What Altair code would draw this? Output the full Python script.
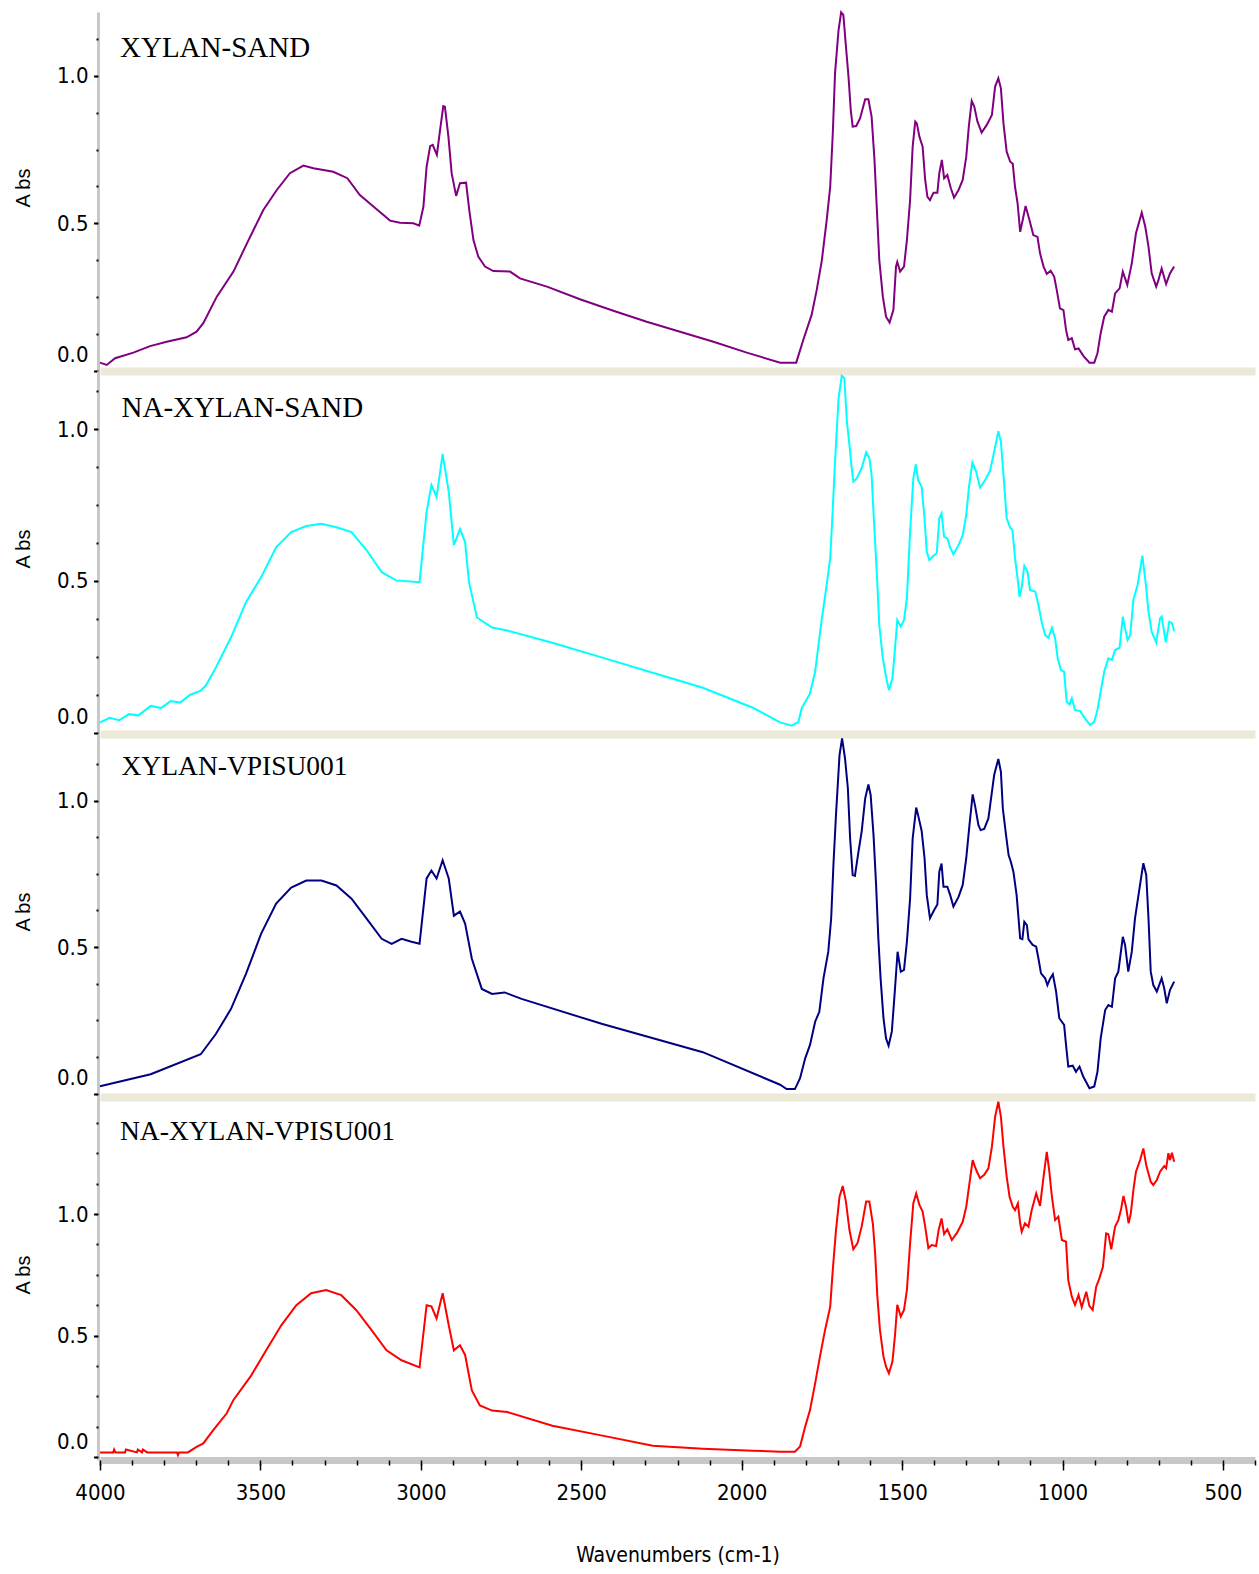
import altair as alt
import pandas as pd

# ---------------- data (wavenumber cm-1, absorbance) ----------------
W1 = [4000, 3979, 3953, 3896, 3844, 3792, 3730, 3699, 3678, 3636, 3584, 3542, 3491, 3449, 3408, 3366, 3335,
      3273, 3229, 3190, 3135, 3096, 3065, 3023, 3005, 2992, 2982, 2971, 2963, 2950, 2940, 2930, 2925, 2914,
      2904, 2890, 2878, 2859, 2849, 2836, 2821, 2800, 2774, 2722, 2691, 2607, 2504, 2400, 2296, 2192, 2088,
      1984, 1880, 1830, 1808, 1782, 1766, 1750, 1735, 1724, 1716, 1709, 1698, 1690, 1683, 1675, 1667, 1660,
      1654, 1643, 1631, 1615, 1605, 1595, 1586, 1579, 1571, 1560, 1550, 1539, 1527, 1519, 1515, 1506, 1494,
      1485, 1475, 1467, 1459, 1454, 1446, 1436, 1428, 1421, 1413, 1402, 1390, 1384, 1376, 1369, 1359, 1348,
      1338, 1324, 1311, 1300, 1292, 1283, 1275, 1265, 1252, 1236, 1220, 1210, 1200, 1192, 1184, 1174, 1163,
      1155, 1148, 1140, 1132, 1124, 1115, 1103, 1091, 1078, 1070, 1059, 1049, 1037, 1026, 1018, 1008, 997,
      989, 982, 971, 961, 950, 935, 916, 901, 891, 881, 870, 857, 846, 836, 822, 812, 798, 784, 771, 753,
      742, 732, 722, 708, 701, 691, 677, 665, 652]
A1 = [0.027, 0.019, 0.042, 0.061, 0.083, 0.098, 0.113, 0.132, 0.161, 0.251, 0.336, 0.432, 0.545, 0.613, 0.670,
      0.696, 0.687, 0.675, 0.653, 0.596, 0.545, 0.509, 0.502, 0.500, 0.492, 0.556, 0.692, 0.762, 0.766, 0.732,
      0.817, 0.898, 0.896, 0.794, 0.670, 0.593, 0.636, 0.638, 0.545, 0.443, 0.387, 0.353, 0.338, 0.336, 0.313,
      0.285, 0.242, 0.203, 0.166, 0.132, 0.098, 0.061, 0.027, 0.027, 0.104, 0.189, 0.274, 0.375, 0.511, 0.624,
      0.805, 1.009, 1.156, 1.216, 1.207, 1.100, 0.998, 0.885, 0.828, 0.830, 0.856, 0.921, 0.921, 0.862, 0.715,
      0.556, 0.375, 0.251, 0.183, 0.163, 0.206, 0.353, 0.369, 0.336, 0.353, 0.443, 0.579, 0.760, 0.845, 0.839,
      0.794, 0.760, 0.647, 0.590, 0.579, 0.604, 0.604, 0.670, 0.715, 0.653, 0.664, 0.619, 0.587, 0.613, 0.647,
      0.726, 0.828, 0.915, 0.896, 0.845, 0.808, 0.834, 0.868, 0.964, 0.992, 0.958, 0.839, 0.743, 0.709, 0.702,
      0.624, 0.568, 0.471, 0.511, 0.559, 0.511, 0.460, 0.454, 0.398, 0.353, 0.328, 0.339, 0.319, 0.274, 0.211,
      0.205, 0.138, 0.104, 0.110, 0.072, 0.075, 0.050, 0.027, 0.027, 0.059, 0.127, 0.183, 0.206, 0.200, 0.262,
      0.279, 0.336, 0.291, 0.364, 0.466, 0.536, 0.488, 0.421, 0.330, 0.285, 0.307, 0.347, 0.294, 0.330, 0.353]

W2 = [4000, 3970, 3940, 3910, 3880, 3842, 3810, 3780, 3750, 3720, 3686, 3670, 3639, 3592, 3545, 3498, 3451,
      3404, 3357, 3310, 3263, 3216, 3169, 3122, 3077,
      3004, 2982, 2967, 2951, 2932, 2913, 2897, 2878, 2862, 2850, 2825, 2778, 2731, 2590, 2434, 2277, 2121,
      1965, 1880, 1844, 1823, 1813, 1787, 1771, 1750, 1735, 1724, 1716, 1709, 1698, 1688, 1680, 1672, 1664,
      1659, 1652, 1641, 1626, 1612, 1602, 1595, 1587, 1579, 1571, 1560, 1550, 1541, 1530, 1522, 1515, 1504,
      1494, 1485, 1475, 1465, 1457, 1450, 1439, 1431, 1423, 1415, 1402, 1392, 1384, 1377, 1369, 1359, 1350,
      1340, 1324, 1311, 1300, 1292, 1281, 1269, 1257, 1241, 1226, 1213, 1200, 1192, 1184, 1174, 1163, 1156,
      1148, 1140, 1134, 1127, 1119, 1109, 1101, 1085, 1075, 1065, 1054, 1044, 1033, 1023, 1015, 1005, 995,
      987, 978, 971, 961, 945, 930, 914, 901, 891, 881, 870, 857, 846, 836, 822, 812, 805, 797, 789, 779,
      766, 751, 740, 732, 722, 708, 696, 691, 678, 667, 659, 652]
A2 = [0.035, 0.050, 0.042, 0.062, 0.058, 0.089, 0.082, 0.105, 0.100, 0.125, 0.139, 0.156, 0.215, 0.314, 0.430,
      0.512, 0.611, 0.661, 0.681, 0.688, 0.677, 0.661, 0.601,
      0.529, 0.502, 0.496, 0.727, 0.816, 0.776, 0.918, 0.793, 0.618, 0.671, 0.628, 0.496, 0.380, 0.347, 0.337,
      0.297, 0.248, 0.198, 0.149, 0.083, 0.035, 0.024, 0.037, 0.081, 0.130, 0.202, 0.377, 0.487, 0.575, 0.739,
      0.893, 1.101, 1.175, 1.167, 1.024, 0.947, 0.893, 0.827, 0.838, 0.871, 0.923, 0.904, 0.849, 0.684, 0.531,
      0.355, 0.246, 0.185, 0.141, 0.180, 0.279, 0.372, 0.350, 0.372, 0.443, 0.662, 0.838, 0.884, 0.832, 0.810,
      0.717, 0.596, 0.569, 0.583, 0.591, 0.706, 0.722, 0.646, 0.640, 0.610, 0.588, 0.618, 0.651, 0.717, 0.805,
      0.890, 0.860, 0.807, 0.832, 0.862, 0.925, 0.993, 0.958, 0.849, 0.706, 0.675, 0.668, 0.575, 0.509, 0.448,
      0.481, 0.550, 0.531, 0.470, 0.465, 0.421, 0.366, 0.322, 0.313, 0.346, 0.311, 0.246, 0.207, 0.202, 0.103,
      0.094, 0.114, 0.076, 0.072, 0.048, 0.026, 0.037, 0.076, 0.136, 0.202, 0.246, 0.240, 0.273, 0.281, 0.383,
      0.344, 0.306, 0.322, 0.438, 0.487, 0.583, 0.487, 0.399, 0.333, 0.298, 0.377, 0.383, 0.298, 0.366, 0.361,
      0.335]

W3 = [4000, 3842, 3686, 3639, 3592, 3545, 3498, 3451, 3404, 3357, 3310, 3263, 3216, 3169, 3122, 3091, 3060,
      3029, 3004, 2982, 2967, 2951, 2932, 2913, 2897, 2878, 2862, 2841, 2810, 2778, 2739, 2686, 2434, 2121,
      1880, 1860, 1834, 1818, 1802, 1787, 1771, 1758, 1745, 1730, 1721, 1714, 1706, 1695, 1687, 1678, 1669,
      1662, 1654, 1647, 1636, 1626, 1615, 1605, 1598, 1589, 1581, 1574, 1567, 1558, 1550, 1542, 1532, 1522,
      1514, 1504, 1494, 1485, 1475, 1467, 1456, 1449, 1439, 1430, 1423, 1413, 1400, 1390, 1384, 1377, 1371,
      1359, 1350, 1340, 1324, 1311, 1300, 1290, 1280, 1272, 1262, 1255, 1244, 1231, 1224, 1213, 1200, 1192,
      1186, 1176, 1168, 1161, 1153, 1143, 1137, 1132, 1125, 1119, 1111, 1106, 1093, 1082, 1075, 1067, 1054,
      1047, 1039, 1030, 1020, 1010, 995, 989, 982, 968, 958, 947, 935, 916, 901, 891, 881, 867, 857, 846, 836,
      826, 812, 805, 795, 784, 774, 760, 748, 739, 732, 725, 717, 706, 691, 683, 675, 665, 652]
A3 = [0.025, 0.066, 0.134, 0.203, 0.288, 0.408, 0.545, 0.648, 0.703, 0.727, 0.727, 0.710, 0.665, 0.597, 0.528,
      0.511, 0.528, 0.518, 0.511, 0.734, 0.761, 0.734, 0.796, 0.734, 0.607, 0.621, 0.580, 0.460, 0.357, 0.340,
      0.345, 0.323, 0.237, 0.141, 0.030, 0.015, 0.015, 0.052, 0.120, 0.166, 0.245, 0.279, 0.393, 0.484, 0.598,
      0.780, 0.951, 1.155, 1.212, 1.145, 1.042, 0.871, 0.746, 0.743, 0.825, 0.894, 1.007, 1.055, 1.019, 0.882,
      0.712, 0.530, 0.393, 0.257, 0.188, 0.163, 0.211, 0.359, 0.484, 0.416, 0.422, 0.518, 0.666, 0.871, 0.976,
      0.945, 0.896, 0.803, 0.677, 0.598, 0.626, 0.645, 0.757, 0.785, 0.706, 0.706, 0.677, 0.638, 0.671, 0.712,
      0.803, 0.916, 1.021, 0.979, 0.916, 0.899, 0.903, 0.939, 0.996, 1.087, 1.142, 1.098, 0.973, 0.882, 0.814,
      0.791, 0.757, 0.677, 0.598, 0.530, 0.527, 0.586, 0.575, 0.526, 0.507, 0.501, 0.461, 0.410, 0.393, 0.370,
      0.391, 0.407, 0.348, 0.257, 0.234, 0.166, 0.092, 0.095, 0.074, 0.092, 0.057, 0.018, 0.024, 0.074, 0.188,
      0.285, 0.302, 0.296, 0.393, 0.416, 0.535, 0.507, 0.416, 0.484, 0.598, 0.700, 0.786, 0.746, 0.598, 0.416,
      0.370, 0.348, 0.393, 0.359, 0.308, 0.353, 0.382]

W4 = [4000, 3959, 3956, 3952, 3922, 3919, 3885, 3882, 3869, 3866, 3853, 3850, 3760, 3757, 3754, 3726, 3699,
      3678, 3647, 3605, 3584, 3529, 3482, 3435, 3388, 3342, 3295, 3248, 3201, 3153, 3107, 3060, 3004, 2982,
      2967, 2951, 2932, 2913, 2897, 2878, 2862, 2841, 2816, 2778, 2731, 2590, 2434, 2277, 2121, 1965, 1880,
      1834, 1818, 1802, 1787, 1771, 1756, 1740, 1724, 1716, 1706, 1695, 1685, 1675, 1664, 1652, 1639, 1626,
      1612, 1602, 1591, 1584, 1577, 1569, 1558, 1550, 1541, 1530, 1522, 1515, 1504, 1494, 1485, 1475, 1465,
      1456, 1446, 1436, 1428, 1418, 1408, 1394, 1386, 1377, 1369, 1359, 1345, 1329, 1311, 1300, 1290, 1280,
      1269, 1257, 1244, 1231, 1220, 1210, 1200, 1192, 1184, 1174, 1165, 1155, 1148, 1139, 1132, 1127, 1117,
      1106, 1096, 1082, 1070, 1059, 1049, 1041, 1033, 1023, 1013, 1002, 989, 982, 971, 961, 950, 940, 926, 916,
      906, 895, 885, 874, 864, 857, 848, 836, 826, 818, 810, 802, 794, 787, 779, 771, 758, 748, 739, 732, 725,
      717, 706, 696, 683, 677, 670, 665, 659, 652]
A4 = [0.019, 0.019, 0.031, 0.019, 0.019, 0.031, 0.019, 0.031, 0.019, 0.031, 0.019, 0.019, 0.019, 0.008, 0.019,
      0.019, 0.042, 0.056, 0.111, 0.180, 0.235, 0.335, 0.439, 0.542, 0.625, 0.674, 0.687, 0.666, 0.604, 0.521,
      0.439, 0.398, 0.369, 0.625, 0.620, 0.570, 0.674, 0.542, 0.439, 0.460, 0.420, 0.274, 0.212, 0.191, 0.185,
      0.129, 0.088, 0.046, 0.034, 0.026, 0.022, 0.022, 0.043, 0.125, 0.193, 0.303, 0.413, 0.523, 0.619, 0.770,
      0.934, 1.071, 1.115, 1.051, 0.934, 0.855, 0.880, 0.948, 1.051, 1.051, 0.959, 0.838, 0.660, 0.523, 0.413,
      0.372, 0.344, 0.393, 0.502, 0.626, 0.578, 0.605, 0.687, 0.880, 1.044, 1.085, 1.037, 1.010, 0.948, 0.859,
      0.872, 0.868, 0.934, 0.982, 0.917, 0.937, 0.893, 0.922, 0.968, 1.030, 1.126, 1.222, 1.181, 1.147, 1.161,
      1.188, 1.277, 1.401, 1.462, 1.401, 1.277, 1.154, 1.071, 1.030, 1.016, 1.044, 0.962, 0.927, 0.962, 0.948,
      1.016, 1.085, 1.033, 1.154, 1.256, 1.174, 1.071, 0.975, 0.989, 0.893, 0.886, 0.728, 0.660, 0.626, 0.667,
      0.616, 0.680, 0.621, 0.605, 0.701, 0.735, 0.783, 0.920, 0.917, 0.855, 0.948, 0.975, 1.016, 1.074, 1.030,
      0.962, 1.003, 1.099, 1.174, 1.222, 1.270, 1.201, 1.167, 1.133, 1.119, 1.140, 1.174, 1.197, 1.188, 1.250,
      1.222, 1.252, 1.215]

WAVES = [W1, W2, W3, W4]
ABS = [A1, A2, A3, A4]
NAMES = ["XYLAN-SAND", "NA-XYLAN-SAND", "XYLAN-VPISU001", "NA-XYLAN-VPISU001"]
COLORS = ["#800080", "#00FFFF", "#000080", "#FF0000"]

X_MAJOR = [4000, 3500, 3000, 2500, 2000, 1500, 1000, 500]
X_MINOR = [4000, 3900, 3800, 3700, 3600, 3500, 3400, 3300, 3200, 3100, 3000, 2900, 2800, 2700, 2600, 2500,
           2400, 2300, 2200, 2100, 2000, 1900, 1800, 1700, 1600, 1500, 1400, 1300, 1200, 1100, 1000, 900,
           800, 700, 600, 500, 400]
Y_MAJOR = [0.0, 0.5, 1.0]
Y_MINOR = [0.0, 0.125, 0.25, 0.375, 0.5, 0.625, 0.75, 0.875, 1.0, 1.125, 1.25, 1.375, 1.5]

# ---------------- layout / style ----------------
PLOT_W = 1155
X_DOMAIN = [400, 4000]
Y_DOMAINS = [[-0.0014, 1.2172], [-0.0033, 1.1908], [-0.0119, 1.2270], [-0.0123, 1.4815]]
HEIGHTS = [359, 363, 363, 363]
TITLE_X = [20, 21.5, 21.5, 20]
TITLE_Y = [45.3, 46.3, 40.5, 43]
TITLE_SIZE = [29, 29, 27.5, 27.5]
NARROW = "Liberation Sans Narrow, Arial Narrow, DejaVu Sans Condensed, sans-serif"
BAND = "#ECE9D8"
GREY = "#C8C8C8"


def panel(i):
    last = i == 3
    df = pd.DataFrame({"w": WAVES[i], "a": ABS[i]})
    xs = alt.Scale(domain=X_DOMAIN, reverse=True, nice=False, zero=False)
    ys = alt.Scale(domain=Y_DOMAINS[i], nice=False, zero=False)
    top = Y_DOMAINS[i][1]
    minor_vals = [v for v in Y_MINOR if v <= top]

    if last:
        xaxis = alt.Axis(values=X_MAJOR, format="d", title="Wavenumbers (cm-1)", grid=False, orient="bottom",
                         tickSize=10, tickWidth=1.5, tickColor="black",
                         domainColor=GREY, domainWidth=7,
                         labelFont=NARROW, labelFontSize=22, labelColor="black", labelPadding=12,
                         labelFlush=False, labelOverlap=False,
                         titleFont=NARROW, titleFontSize=21, titleFontWeight="normal", titleColor="black",
                         titleY=95, titleBaseline="middle")
        xminor = alt.Axis(values=X_MINOR, labels=False, title=None, domain=False, grid=False, orient="bottom",
                          tickSize=5, tickWidth=1.5, tickColor="black", zindex=1)
    else:
        xaxis = alt.Axis(values=[0], labels=False, ticks=False, title=None, grid=False, orient="bottom",
                         domainColor=BAND, domainWidth=8)
        xminor = None

    yaxis = alt.Axis(values=Y_MAJOR, format=".1f", title="A bs", grid=False, offset=2, orient="left",
                     tickSize=4.5, tickWidth=2, tickColor="black",
                     domainColor=GREY, domainWidth=3,
                     labelFont=NARROW, labelFontSize=22, labelColor="black", labelPadding=5.5,
                     labelFlush=6, labelFlushOffset=-4,
                     titleFont="Liberation Sans", titleFontSize=20, titleFontWeight="normal",
                     titleColor="black", titleX=-85, titleY=HEIGHTS[i] / 2 - 4, titleBaseline="top")
    yminor = alt.Axis(values=minor_vals, labels=False, title=None, domain=False, grid=False, offset=2,
                      orient="left", tickSize=2, tickWidth=2, tickColor="black", zindex=1)

    line = alt.Chart(df).mark_line(color=COLORS[i], strokeWidth=2).encode(
        x=alt.X("w:Q", scale=xs, axis=xaxis),
        y=alt.Y("a:Q", scale=ys, axis=yaxis),
    )
    ghost = alt.Chart(df).mark_line(strokeOpacity=0).encode(
        x=alt.X("w:Q", scale=xs, axis=xminor),
        y=alt.Y("a:Q", scale=ys, axis=yminor),
    )
    label = alt.Chart(pd.DataFrame({"t": [NAMES[i]]})).mark_text(
        align="left", baseline="alphabetic", font="Liberation Serif",
        fontSize=TITLE_SIZE[i], color="black"
    ).encode(x=alt.value(TITLE_X[i]), y=alt.value(TITLE_Y[i]), text="t:N")

    return alt.layer(line, ghost, label).resolve_axis(x="independent", y="independent").properties(
        width=PLOT_W, height=HEIGHTS[i]
    )


chart = alt.vconcat(*[panel(i) for i in range(4)], spacing=0, bounds="flush").properties(
    padding={"left": 13, "top": 8, "right": 1, "bottom": 4}
).configure_view(strokeWidth=0)

chart.save("out.html", embed_options={"renderer": "svg", "actions": False})
